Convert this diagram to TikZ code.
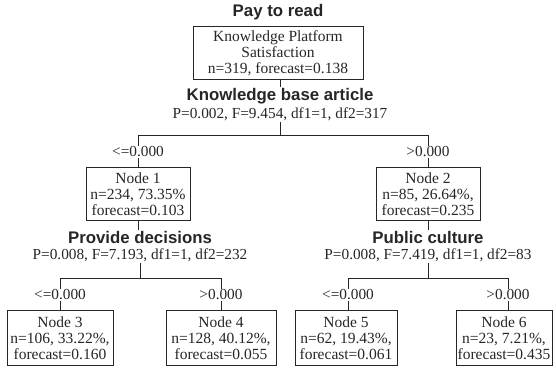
\documentclass[tikz,border=0pt]{standalone}
\usepackage{fontspec}
\setmainfont{Liberation Serif}
\setsansfont{Liberation Sans}
\begin{document}
\begin{tikzpicture}[x=1pt,y=-1pt,
  box/.style={draw=black!85, line width=0.9pt, align=center, inner sep=1pt,
    font=\fontsize{15.5}{16}\selectfont, minimum height=53pt, text=black!85},
  split/.style={font=\sffamily\bfseries\fontsize{16.8}{18}\selectfont, inner sep=1pt, text=black!85},
  stat/.style={font=\fontsize{15.3}{16}\selectfont, inner sep=1pt, text=black!85},
  cond/.style={font=\fontsize{15.3}{16}\selectfont, inner sep=1pt, text=black!85, fill=white},
  conn/.style={draw=black!85, line width=0.8pt}]
\useasboundingbox (0,0) rectangle (556,368);
% root
\node[split] (title) at (278,12) {Pay to read};
\node[box, minimum width=170pt] (root) at (278,53) {Knowledge Platform\\Satisfaction\\n=319, forecast=0.138};
\node[split] (s0) at (280,96) {Knowledge base article};
\node[stat] (p0) at (280,114) {P=0.002, F=9.454, df1=1, df2=317};
\draw[conn] (root.south -| s0.north) -- (s0.north);
\coordinate (h0) at (280,135);
\coordinate (h0l) at (138,135);
\coordinate (h0r) at (428,135);
\draw[conn] (p0.south) -- (h0);
\draw[conn] (h0l) -- (h0r);
% level 1
\node[cond] (c1) at (138,152) {<=0.000};
\node[cond] (c2) at (428,152) {>0.000};
\node[box, minimum width=104pt] (n1) at (138,194) {Node 1\\n=234, 73.35\%\\forecast=0.103};
\node[box, minimum width=104pt] (n2) at (428,194) {Node 2\\n=85, 26.64\%,\\forecast=0.235};
\draw[conn] (h0l) -- (c1.north);
\draw[conn] (c1.south) -- (n1.north);
\draw[conn] (h0r) -- (c2.north);
\draw[conn] (c2.south) -- (n2.north);
\node[split] (s1) at (140,237) {Provide decisions};
\node[stat] (p1) at (140,255) {P=0.008, F=7.193, df1=1, df2=232};
\node[split] (s2) at (428,237) {Public culture};
\node[stat] (p2) at (428,255) {P=0.008, F=7.419, df1=1, df2=83};
\draw[conn] (n1.south) -- (n1.south |- s1.north);
\draw[conn] (n2.south) -- (s2.north);
% level 2
\coordinate (h1) at (140,278);
\coordinate (h1l) at (60,278);
\coordinate (h1r) at (221,278);
\coordinate (h2) at (428,278);
\coordinate (h2l) at (348,278);
\coordinate (h2r) at (508,278);
\draw[conn] (p1.south) -- (h1);
\draw[conn] (h1l) -- (h1r);
\draw[conn] (p2.south) -- (h2);
\draw[conn] (h2l) -- (h2r);
\node[cond] (c3) at (60,295) {<=0.000};
\node[cond] (c4) at (221,295) {>0.000};
\node[cond] (c5) at (348,295) {<=0.000};
\node[cond] (c6) at (508,295) {>0.000};
\node[box, minimum width=106pt, minimum height=55pt] (n3) at (60,338) {Node 3\\n=106, 33.22\%,\\forecast=0.160};
\node[box, minimum width=110pt, minimum height=55pt] (n4) at (221,338) {Node 4\\n=128, 40.12\%,\\forecast=0.055};
\node[box, minimum width=102pt, minimum height=55pt] (n5) at (346,338) {Node 5\\n=62, 19.43\%,\\forecast=0.061};
\node[box, minimum width=96pt, minimum height=55pt] (n6) at (504,338) {Node 6\\n=23, 7.21\%,\\forecast=0.435};
\draw[conn] (h1l) -- (c3.north);
\draw[conn] (c3.south) -- (c3.south |- n3.north);
\draw[conn] (h1r) -- (c4.north);
\draw[conn] (c4.south) -- (c4.south |- n4.north);
\draw[conn] (h2l) -- (c5.north);
\draw[conn] (c5.south) -- (c5.south |- n5.north);
\draw[conn] (h2r) -- (c6.north);
\draw[conn] (c6.south) -- (c6.south |- n6.north);
\end{tikzpicture}
\end{document}
